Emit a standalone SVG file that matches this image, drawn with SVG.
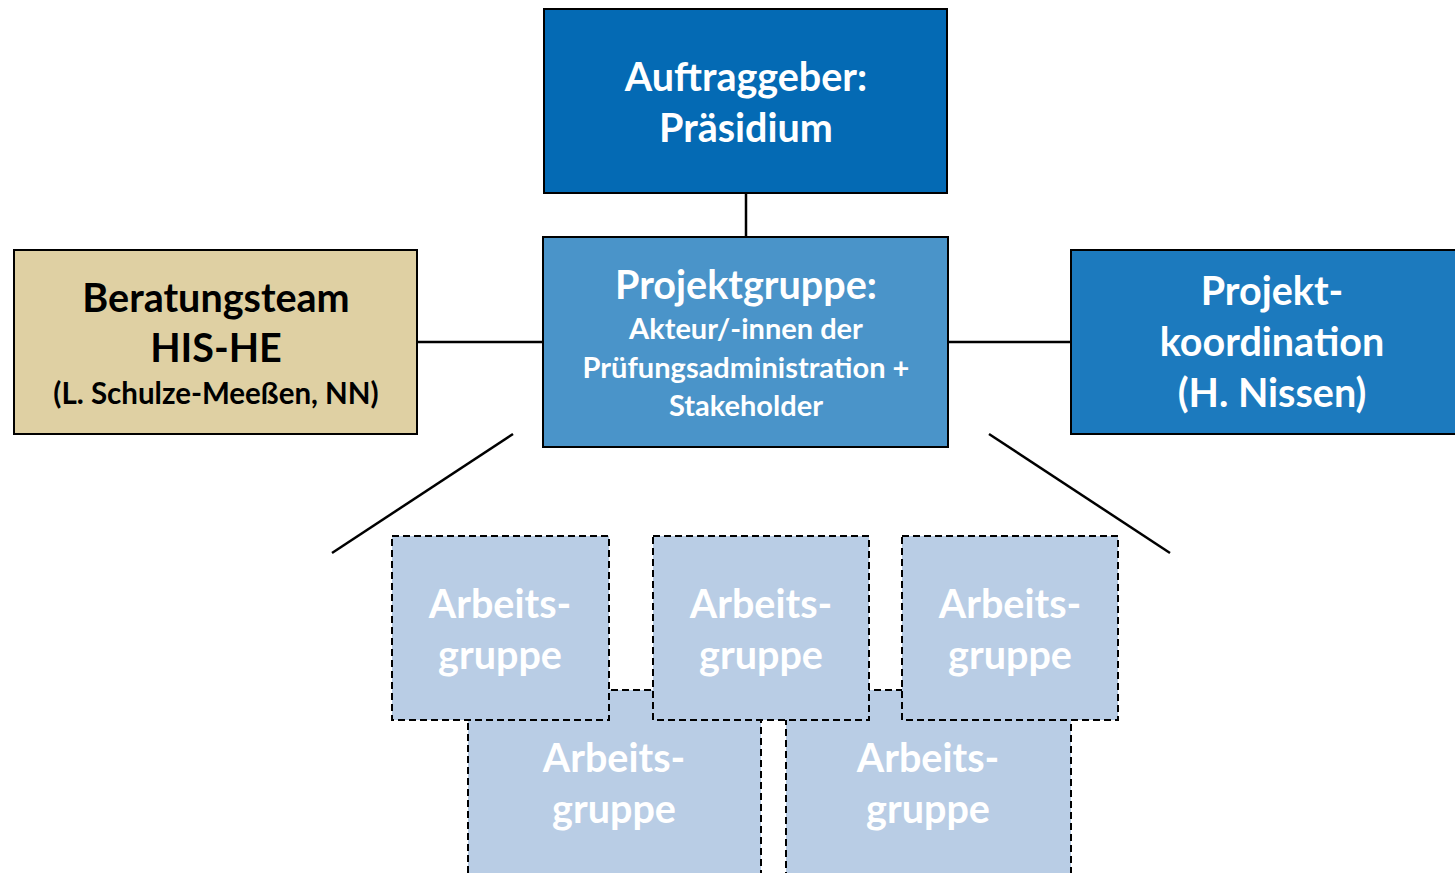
<svg xmlns="http://www.w3.org/2000/svg" width="1455" height="873" viewBox="0 0 1455 873">
<style>
.box{stroke:#000;stroke-width:2}
.ag{fill:#B9CDE5;stroke:#000;stroke-width:2;stroke-dasharray:7 4}
.t{font-family:Lato,"Open Sans",sans-serif;font-weight:bold;text-anchor:middle}
.w{fill:#fff}
.k{fill:#000}
.big{font-size:39.5px}
.mid{font-size:29px}
.conn{stroke:#000;stroke-width:2.5;fill:none}
</style>
<rect width="1455" height="873" fill="#fff"/>
<g id="connectors">
<line class="conn" x1="746" y1="193" x2="746" y2="237"/>
<line class="conn" x1="417" y1="342" x2="543" y2="342"/>
<line class="conn" x1="948" y1="342" x2="1071" y2="342"/>
<line class="conn" x1="513" y1="434" x2="332" y2="553" stroke-width="2"/>
<line class="conn" x1="989" y1="434" x2="1170" y2="553" stroke-width="2"/>
</g>
<g id="auftraggeber">
<rect class="box" x="544" y="9" width="403" height="184" fill="#046AB4"/>
<text class="t w big" x="746" y="91">Auftraggeber:</text>
<text class="t w big" x="746" y="142">Präsidium</text>
</g>
<g id="projektgruppe">
<rect class="box" x="543" y="237" width="405" height="210" fill="#4A94C9"/>
<text class="t w big" x="746" y="299">Projektgruppe:</text>
<text class="t w mid" x="746" y="339">Akteur/-innen der</text>
<text class="t w mid" x="746" y="378">Prüfungsadministration +</text>
<text class="t w mid" x="746" y="416">Stakeholder</text>
</g>
<g id="beratungsteam">
<rect class="box" x="14" y="250" width="403" height="184" fill="#DFD0A3"/>
<text class="t k big" x="216" y="312">Beratungsteam</text>
<text class="t k big" x="216" y="362">HIS-HE</text>
<text class="t k" x="216" y="404" font-size="29.5">(L. Schulze-Meeßen, NN)</text>
</g>
<g id="projektkoordination">
<rect class="box" x="1071" y="250" width="390" height="184" fill="#1C7ABE"/>
<text class="t w big" x="1272" y="305">Projekt-</text>
<text class="t w big" x="1272" y="356">koordination</text>
<text class="t w big" x="1272" y="407">(H. Nissen)</text>
</g>
<g id="arbeitsgruppe4">
<rect class="ag" x="468" y="690" width="293" height="200"/>
<text class="t w big" x="614" y="772">Arbeits-</text>
<text class="t w big" x="614" y="823">gruppe</text>
</g>
<g id="arbeitsgruppe5">
<rect class="ag" x="786" y="690" width="285" height="200"/>
<text class="t w big" x="928" y="772">Arbeits-</text>
<text class="t w big" x="928" y="823">gruppe</text>
</g>
<g id="arbeitsgruppe1">
<rect class="ag" x="392" y="536" width="217" height="184"/>
<text class="t w big" x="500" y="618">Arbeits-</text>
<text class="t w big" x="500" y="669">gruppe</text>
</g>
<g id="arbeitsgruppe2">
<rect class="ag" x="653" y="536" width="216" height="184"/>
<text class="t w big" x="761" y="618">Arbeits-</text>
<text class="t w big" x="761" y="669">gruppe</text>
</g>
<g id="arbeitsgruppe3">
<rect class="ag" x="902" y="536" width="216" height="184"/>
<text class="t w big" x="1010" y="618">Arbeits-</text>
<text class="t w big" x="1010" y="669">gruppe</text>
</g>
</svg>
